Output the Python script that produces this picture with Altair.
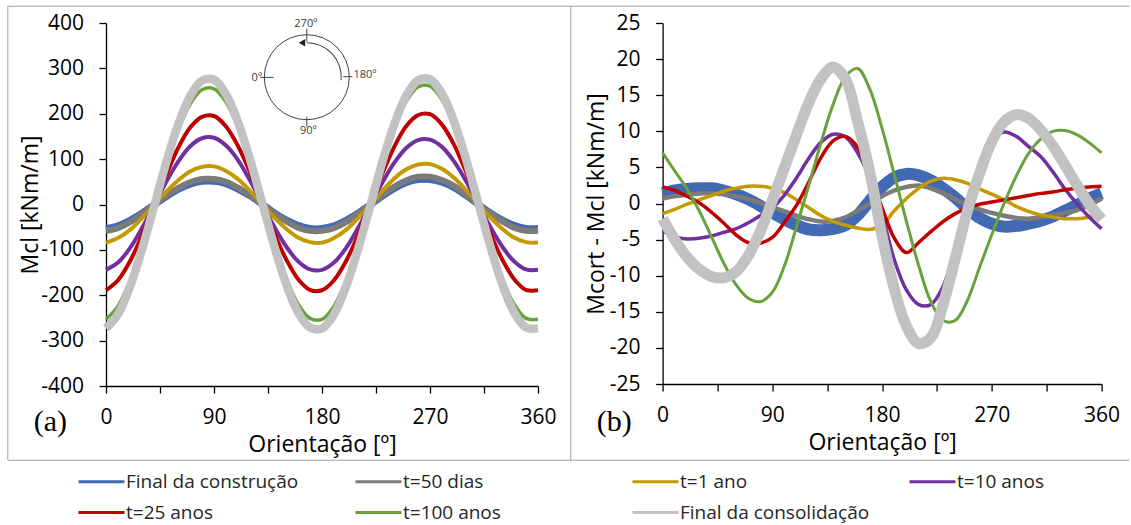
import altair as alt
import pandas as pd

# ---------------- data ----------------
angles = list(range(0, 361, 10))

series_names = ["Final da construção", "t=50 dias", "t=1 ano", "t=10 anos",
                "t=25 anos", "t=100 anos", "Final da consolidação"]
series_colors = ["#4169B4", "#7B7B7B", "#C59A00", "#7030A0",
                 "#C00000", "#6AA13F", "#C2C2C2"]

# Panel (a): Mcl [kNm/m]
a_final_construcao = [-53, -47, -35, -19, -1, 17, 33, 45, 51, 51, 46, 34, 19, 1, -18, -34, -46, -53, -53,
                      -47, -35, -19, -1, 18, 35, 48, 55, 55, 49, 37, 20, 1, -18, -34, -46, -53, -53]
a_50_dias = [-58, -52, -39, -21, -1, 19, 36, 49, 56, 56, 50, 37, 20, 1, -19, -37, -51, -58, -58,
             -52, -39, -21, -1, 20, 39, 53, 61, 61, 54, 41, 22, 1, -19, -37, -51, -58, -58]
a_1_ano = [-84, -74, -56, -30, -1, 28, 53, 73, 83, 84, 74, 56, 30, 1, -28, -53, -73, -83, -84,
           -74, -56, -30, -1, 29, 57, 77, 88, 89, 79, 59, 32, 2, -28, -53, -73, -83, -84]
a_10_anos = [-144, -128, -96, -52, -2, 49, 94, 128, 146, 147, 130, 98, 53, 3, -48, -92, -125, -143, -144,
             -128, -96, -52, -2, 47, 91, 124, 142, 143, 127, 95, 52, 2, -48, -92, -125, -143, -144]
a_25_anos = [-189, -167, -125, -68, -3, 64, 124, 169, 193, 195, 172, 129, 71, 3, -62, -120, -164, -188, -189,
             -167, -125, -68, -3, 66, 126, 172, 197, 199, 176, 132, 72, 3, -62, -120, -164, -188, -189]
a_100_anos = [-253, -224, -168, -92, -4, 84, 162, 221, 253, 255, 226, 169, 92, 4, -83, -161, -219, -251, -253,
              -224, -168, -92, -4, 86, 166, 226, 259, 261, 231, 173, 95, 4, -83, -161, -219, -251, -253]
a_final_consolidacao = [-273, -242, -181, -99, -5, 91, 175, 238, 273, 275, 243, 182, 100, 5, -90, -174, -237, -271, -273,
                        -242, -181, -99, -5, 91, 175, 239, 274, 276, 244, 183, 100, 5, -90, -174, -237, -271, -273]

# Panel (b): Mcort - Mcl [kNm/m]
b_final_construcao = [1.4, 1.8, 2.0, 2.1, 2.1, 1.8, 1.3, 0.6, -0.3, -1.3, -2.2, -3.0, -3.6, -3.7, -3.5, -3.0, -1.6, 0.4, 2.3,
                      3.6, 4.1, 3.9, 3.2, 2.1, 0.8, -0.7, -2.0, -2.8, -3.2, -3.1, -2.8, -2.4, -1.8, -1.0, -0.2, 0.7, 1.4]
b_50_dias = [0.7, 1.0, 1.2, 1.4, 1.4, 1.3, 1.0, 0.6, 0.1, -0.5, -1.1, -1.7, -2.2, -2.5, -2.4, -1.9, -1.0, 0.0, 1.0,
             1.8, 2.3, 2.5, 2.1, 1.4, 0.6, -0.2, -0.8, -1.3, -1.7, -2.0, -2.1, -1.9, -1.6, -1.3, -0.9, -0.2, 0.7]
b_1_ano = [-1.4, -0.8, -0.1, 0.5, 1.1, 1.7, 2.1, 2.4, 2.4, 2.1, 1.5, 0.5, -0.6, -1.7, -2.5, -3.0, -3.4, -3.6, -3.0,
           -1.0, 0.7, 2.1, 3.1, 3.5, 3.3, 2.8, 2.0, 1.3, 0.5, -0.4, -1.1, -1.6, -1.9, -2.1, -2.1, -1.9, -1.6]
b_10_anos = [-3.8, -4.6, -4.9, -4.8, -4.5, -4.0, -3.5, -2.7, -1.7, -0.6, 1.2, 3.6, 6.3, 8.5, 9.6, 9.2, 7.0, 3.5, -1.5,
             -7.8, -12.0, -14.0, -14.0, -11.5, -6.0, 0.0, 5.5, 8.8, 9.9, 9.3, 7.9, 6.5, 4.4, 2.0, -0.1, -1.9, -3.5]
b_25_anos = [2.3, 1.8, 1.0, 0.1, -1.2, -2.7, -4.3, -5.4, -5.5, -4.7, -2.6, -0.2, 3.0, 6.4, 8.7, 9.3, 7.8, 4.0, -0.6,
             -4.8, -6.8, -5.4, -3.9, -2.5, -1.4, -0.6, -0.1, 0.2, 0.5, 0.8, 1.1, 1.4, 1.6, 1.9, 2.1, 2.3, 2.4]
b_100_anos = [7.0, 4.5, 2.0, -1.0, -4.6, -8.2, -11.2, -13.1, -13.6, -12.3, -8.6, -3.1, 2.6, 8.5, 13.8, 17.6, 18.7, 15.8, 10.4,
              4.0, -2.5, -8.6, -13.6, -16.2, -16.2, -13.4, -8.8, -4.3, 0.0, 3.8, 6.9, 8.9, 10.0, 10.1, 9.5, 8.4, 7.0]
b_final_consolidacao = [-2.1, -5.0, -7.4, -9.1, -10.1, -10.3, -9.5, -7.3, -3.9, 0.4, 5.0, 9.6, 14.0, 17.3, 18.9, 17.2, 11.3, 4.3, -4.5,
                        -11.8, -17.0, -19.4, -18.6, -14.0, -7.6, -1.0, 4.2, 8.6, 11.3, 12.3, 11.8, 10.2, 8.0, 5.3, 2.5, -0.1, -2.2]

x_ticks = [0, 45, 90, 135, 180, 225, 270, 315, 360]
a_yticks = [-400, -300, -200, -100, 0, 100, 200, 300, 400]
b_yticks = [-25, -20, -15, -10, -5, 0, 5, 10, 15, 20, 25]

inset_labels = ["270º", "0º", "180º", "90º"]


def long_df(cols):
    rows = []
    for name, vals in zip(series_names, cols):
        for ang, v in zip(angles, vals):
            rows.append({"series": name, "angle": ang, "value": v})
    return pd.DataFrame(rows)


df_a = long_df([a_final_construcao, a_50_dias, a_1_ano, a_10_anos, a_25_anos, a_100_anos, a_final_consolidacao])
df_b = long_df([b_final_construcao, b_50_dias, b_1_ano, b_10_anos, b_25_anos, b_100_anos, b_final_consolidacao])
one = pd.DataFrame({"k": [0]})

# ---------------- style ----------------
FONT = "Open Sans"
BORDER = "#A0A0A0"
INK = "#404040"
W_A, H_A = 432, 363
W_B, H_B = 439, 361
widths_a = [7, 6, 4, 4, 4, 3.5, 8.5]
widths_b = [12, 4.5, 3.5, 3.5, 3.5, 3, 11]

color_scale = alt.Scale(domain=series_names, range=series_colors)
legend = alt.Legend(
    orient="none", legendX=-29, legendY=447, columns=4, direction="horizontal", title=None,
    symbolType="M-2.3,0H2.3", symbolSize=400, symbolStrokeWidth=3, symbolOffset=13,
    labelFont=FONT, labelFontSize=19, labelColor="#262626", labelLimit=400,
    labelOffset=13, gridAlign="all", columnPadding=33, rowPadding=9,
)


def rule_h(x1, x2, y, color=BORDER, w=1):
    return alt.Chart(one).mark_rule(color=color, strokeWidth=w).encode(
        x=alt.value(x1), x2=alt.value(x2), y=alt.value(y))


def rule_v(x, y1, y2, color=BORDER, w=1):
    return alt.Chart(one).mark_rule(color=color, strokeWidth=w).encode(
        x=alt.value(x), y=alt.value(y1), y2=alt.value(y2))


def label(txt, x, y, size, font=FONT, align="center", color="black"):
    return alt.Chart(one).mark_text(font=font, fontSize=size, align=align,
                                    baseline="middle", color=color).encode(
        x=alt.value(x), y=alt.value(y), text=alt.value(txt))


def build_panel(df, w, h, ydom, yticks, ytitle, ytitle_x, widths):
    x_enc = alt.X("angle:Q", scale=alt.Scale(domain=[0, 360], nice=False, zero=False),
                  axis=alt.Axis(values=x_ticks, labelExpr="datum.value % 90 === 0 ? datum.label : ''",
                                labelOverlap=False, labelFlush=False,
                                title="Orientação [º]", titleX=w / 2, titleY=58,
                                titleAlign="center", titleBaseline="middle"))
    y_enc = alt.Y("value:Q", scale=alt.Scale(domain=ydom, nice=False, zero=False),
                  axis=alt.Axis(values=yticks, labelExpr="'' + datum.value", labelOverlap=False,
                                title=ytitle, titleX=ytitle_x, titleY=h / 2, titleAngle=270,
                                titleAlign="center", titleBaseline="middle"))
    layers = []
    for name, sw in zip(series_names, widths):
        layers.append(
            alt.Chart(df).transform_filter(alt.datum.series == name)
            .mark_line(interpolate="catmull-rom", strokeWidth=sw, strokeJoin="round")
            .encode(x=x_enc, y=y_enc, color=alt.Color("series:N", scale=color_scale, legend=legend))
        )
    return layers


# ---------------- panel (a) ----------------
layers_a = build_panel(df_a, W_A, H_A, [-400, 400], a_yticks, "Mcl [kNm/m]", -76, widths_a)
deco_a = [
    rule_h(-98.2, 464.8, -16.8), rule_h(-98.2, 464.8, 437.2),
    rule_v(-98.2, -16.8, 437.2), rule_v(464.8, -16.8, 437.2),
    label("(a)", -55.7, 398.7, 30, font="Liberation Serif"),
    # inset orientation sketch
    alt.Chart(one).mark_point(shape="circle", size=7225, filled=False, color=INK, strokeWidth=1,
                              opacity=1).encode(x=alt.value(200.8), y=alt.value(54.2)),
    rule_v(200.8, 5.7, 18.7, color=INK), rule_v(200.8, 93.7, 103.7, color=INK),
    rule_h(154.3, 167.6, 54.4, color=INK), rule_h(237.3, 246.3, 53.7, color=INK),
    alt.Chart(one).mark_arc(radius=35, radius2=34, theta=0.0, theta2=1.66, color=INK).encode(
        x=alt.value(200.8), y=alt.value(54.2)),
    alt.Chart(one).mark_point(shape="triangle-left", size=55, filled=True, color="#202020",
                              opacity=1).encode(x=alt.value(196.0), y=alt.value(19.7)),
    label(inset_labels[0], 199.8, 0.5, 11, color=INK),
    label(inset_labels[1], 156.0, 55.0, 11, align="right", color=INK),
    label(inset_labels[2], 247.5, 52.0, 11, align="left", color=INK),
    label(inset_labels[3], 202.3, 107.7, 11, color=INK),
]
panel_a = alt.layer(*layers_a, *deco_a).properties(width=W_A, height=H_A)

# ---------------- panel (b) ----------------
layers_b = build_panel(df_b, W_B, H_B, [-25, 25], b_yticks, "Mcort - Mcl [kNm/m]", -66, widths_b)
deco_b = [
    rule_h(-91.8, 467.0, -16.8), rule_h(-91.8, 467.0, 437.2),
    label("(b)", -48.3, 398.7, 30, font="Liberation Serif"),
]
panel_b = alt.layer(*layers_b, *deco_b).properties(width=W_B, height=H_B)

chart = (
    alt.hconcat(panel_a, panel_b, spacing=124.6, bounds="flush")
    .properties(padding={"left": 7, "top": 5, "right": 0, "bottom": 0})
    .configure_view(stroke=None)
    .configure_axis(
        labelFont=FONT, labelFontSize=21, labelColor="black",
        titleFont=FONT, titleFontSize=23, titleFontWeight="normal", titleColor="black",
        domainColor="black", domainWidth=1.3, tickColor="black", tickWidth=1.3,
        tickSize=7, grid=False,
    )
    .configure_axisX(labelPadding=13.5)
    .configure_axisY(labelPadding=15.5)
)

chart.save("out.html", embed_options={"renderer": "svg", "actions": False})
